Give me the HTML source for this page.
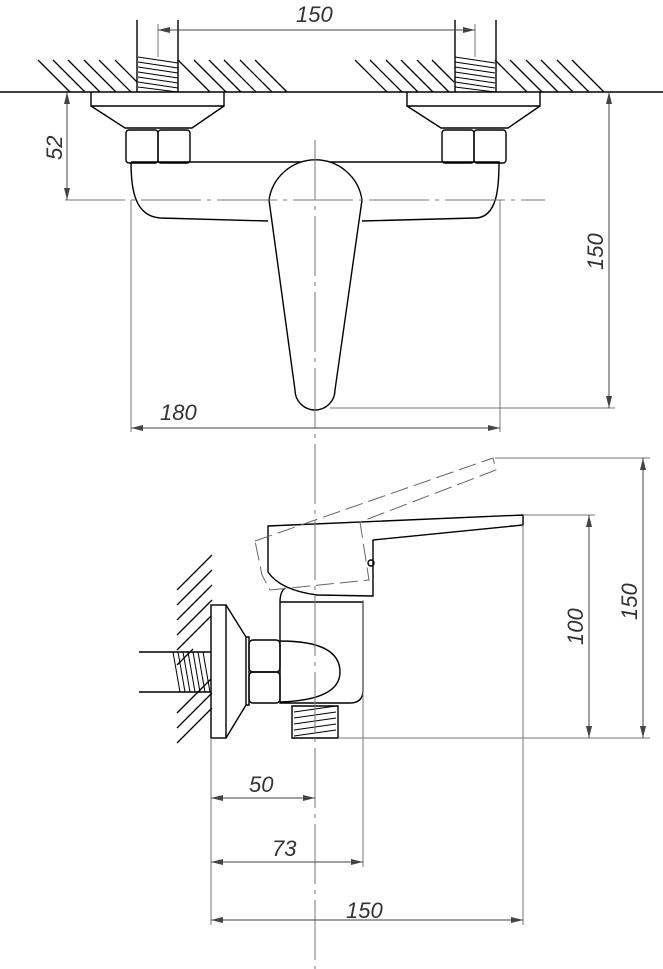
<!DOCTYPE html>
<html><head><meta charset="utf-8"><style>
html,body{margin:0;padding:0;background:#fff}
svg{display:block}
text{font-family:"Liberation Sans",sans-serif;font-style:italic;font-size:22px;fill:#333}
</style></head><body>
<svg width="663" height="969" viewBox="0 0 663 969" xmlns="http://www.w3.org/2000/svg">
<defs>
<marker id="a" viewBox="0 0 12 6" refX="12" refY="3" markerWidth="12" markerHeight="6" orient="auto-start-reverse" markerUnits="userSpaceOnUse"><path d="M0,0L12,3L0,6z" fill="#444"/></marker>
</defs>
<g stroke="#000" stroke-width="1.4" fill="none">
<line x1="0" y1="92" x2="663" y2="92"/>
<g stroke-width="1.3">
<path d="M38,60l32,32M53,60l32,32M68,60l32,32M84,60l32,32M99,60l32,32M115,60l22,22M178,60l32,32M194,60l32,32M209,60l32,32M224,60l32,32M240,60l32,32M255,60l32,32"/>
<path d="M355,60l32,32M370,60l32,32M386,60l32,32M401,60l32,32M417,60l32,32M432,60l22,22M495,60l32,32M510,60l32,32M526,60l32,32M541,60l32,32M557,60l32,32M572,60l32,32"/>
</g>
<path d="M137,20V92M178,20V92M455,20V92M496,20V92"/>
<path d="M138,57L178,63M138,62L178,68M138,67L178,73M138,72L178,78M138,77L178,83M138,82L178,88M138,87L178,92M455,57L495,63M455,62L495,68M455,67L495,73M455,72L495,78M455,77L495,83M455,82L495,88M455,87L495,92" stroke-width="1"/>
<path d="M91,92V106H224V92M91,106L125,128H192L224,106"/>
<path d="M407,92V106H540V92M407,106L441,128H508L540,106"/>
<rect x="126" y="130" width="32" height="33" rx="3"/><rect x="158" y="130" width="32" height="33" rx="3"/>
<rect x="442" y="130" width="32" height="33" rx="3"/><rect x="474" y="130" width="32" height="33" rx="3"/>
<path d="M131,162H499C499,185 498,218 475,218L362,221M268,221L160,218C135,216 131,190 131,162"/>
<path d="M269,200A47,47 0 0 1 362,200L335,390A20,20 0 0 1 295,390Z" fill="#fff"/>
<g stroke-width="1.3">
<path d="M177,605l35,-35M177,620l35,-35M177,635l35,-35M177,650l34,-34M177,665l16,-16M177,713l34,-34M177,728l35,-35M177,743l35,-35M177,590l35,-35"/>
</g>
<path d="M139,652H211M139,692H211"/>
<path d="M173,652L180,692M178,652L185,692M183,652L190,692M188,652L195,692M193,652L200,692M198,652L205,692M203,652L210,692" stroke-width="1"/>
<rect x="211" y="605" width="15" height="133"/>
<path d="M226,605L246,637V705L226,738M246,637H249V705H246"/>
<rect x="249" y="640" width="31" height="32" rx="4"/><rect x="249" y="672" width="31" height="31" rx="4"/>
<path d="M280,602H363V690Q363,703 350,703H280V602M280,641Q340,641 340,672Q340,700 280,702"/>
<path d="M292,706H338V738H292Z"/>
<path d="M294,712L336,706M294,718L336,712M294,724L336,718M294,730L336,724M294,736L336,730" stroke-width="1"/>
<path d="M280,602Q280,592 285,588"/>
<path d="M268,526L523,515V525L373,540V596L317,595Q280,590 268,572Z" fill="#fff"/>
<circle cx="371" cy="563" r="3"/>
</g>
<path d="M255,541L493,458L496,470L360,522L369,580L270,590L262,575Z" stroke="#666" stroke-width="1" fill="none" stroke-dasharray="18,6"/>
<g stroke="#777" stroke-width="1" fill="none">
<path d="M178,30H455"/>
<path d="M158,24V57M475,24V57"/>
<path d="M315,140V969" stroke-dasharray="60,6,4,6"/>
<path d="M65,200H545" stroke-dasharray="60,6,4,6"/>
<path d="M330,408H615M131,200V432M500,200V432"/>
<path d="M495,458H650M523,515H595M338,738H650"/>
<path d="M211,738V925M363,600V867M523,525V925"/>
</g>
<g stroke="#444" stroke-width="1" fill="none">
<line x1="67" y1="92" x2="67" y2="200" marker-start="url(#a)" marker-end="url(#a)"/>
<line x1="609" y1="92" x2="609" y2="408" marker-start="url(#a)" marker-end="url(#a)"/>
<line x1="131" y1="428" x2="500" y2="428" marker-start="url(#a)" marker-end="url(#a)"/>
<line x1="158" y1="30" x2="475" y2="30" marker-start="url(#a)" marker-end="url(#a)"/>
<line x1="589" y1="515" x2="589" y2="738" marker-start="url(#a)" marker-end="url(#a)"/>
<line x1="643" y1="458" x2="643" y2="738" marker-start="url(#a)" marker-end="url(#a)"/>
<line x1="211" y1="798" x2="315" y2="798" marker-start="url(#a)" marker-end="url(#a)"/>
<line x1="211" y1="862" x2="363" y2="862" marker-start="url(#a)" marker-end="url(#a)"/>
<line x1="211" y1="920" x2="523" y2="920" marker-start="url(#a)" marker-end="url(#a)"/>
</g>
<text x="296" y="22">150</text>
<text transform="translate(62,160) rotate(-90)">52</text>
<text transform="translate(603,270) rotate(-90)">150</text>
<text x="160" y="420">180</text>
<text transform="translate(583,645) rotate(-90)">100</text>
<text transform="translate(637,620) rotate(-90)">150</text>
<text x="249" y="792">50</text>
<text x="272" y="856">73</text>
<text x="346" y="918">150</text>
</svg>
</body></html>
